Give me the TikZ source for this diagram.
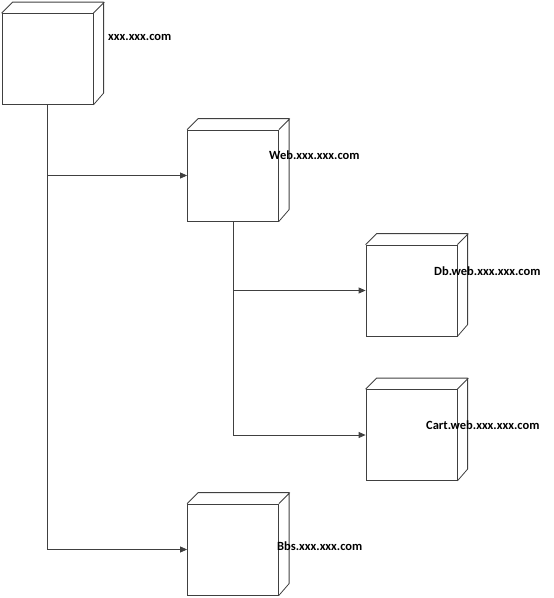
\documentclass[tikz,border=0pt]{standalone}
\usepackage{fontspec}
\setmainfont{Carlito}
\usetikzlibrary{arrows.meta}
\definecolor{ln}{HTML}{404040}
\tikzset{
  face/.style={draw=ln, line width=0.8pt, rectangle, minimum width=91pt, minimum height=91pt, inner sep=0pt},
  lbl/.style={anchor=west, inner sep=0pt, font=\bfseries\fontsize{12.5}{14}\selectfont, text=black},
  conn/.style={draw=ln, line width=0.8pt, -{Triangle[length=7pt,width=6pt]}},
  plain/.style={draw=ln, line width=0.8pt}
}
\newcommand{\cubeside}[1]{%
  \draw[plain, line join=round] (#1.north west) -- ++(11,-11) -- ++(91,0) -- ++(0,91) -- (#1.south east)
    (#1.north east) -- ++(11,-11);}
\begin{document}
\begin{tikzpicture}[x=1pt,y=-1pt]
\useasboundingbox (0,0) rectangle (554,598);
\node[face] (root) at (47.5,59) {};
\node[face] (web) at (233,175.5) {};
\node[face] (db) at (411.5,290.5) {};
\node[face] (cart) at (411.5,435) {};
\node[face] (bbs) at (233,549.5) {};
\foreach \n in {root,web,db,cart,bbs} {\cubeside{\n}}
\node[lbl] (lroot) at (108,37) {xxx.xxx.com};
\node[lbl] (lweb) at (269,155) {Web.xxx.xxx.com};
\node[lbl] (ldb) at (434,271) {Db.web.xxx.xxx.com};
\node[lbl] (lcart) at (426,425) {Cart.web.xxx.xxx.com};
\node[lbl] (lbbs) at (277,546) {Bbs.xxx.xxx.com};
\coordinate (r1) at (root.south |- web.west);
\coordinate (r2) at (root.south |- bbs.west);
\coordinate (w1) at (web.south |- db.west);
\coordinate (w2) at (web.south |- cart.west);
\draw[plain] (root.south) -- (r2);
\draw[conn] (r1) -- (web.west);
\draw[conn] (r2) -- (bbs.west);
\draw[plain] (web.south) -- (w2);
\draw[conn] (w1) -- (db.west);
\draw[conn] (w2) -- (cart.west);
\end{tikzpicture}
\end{document}
